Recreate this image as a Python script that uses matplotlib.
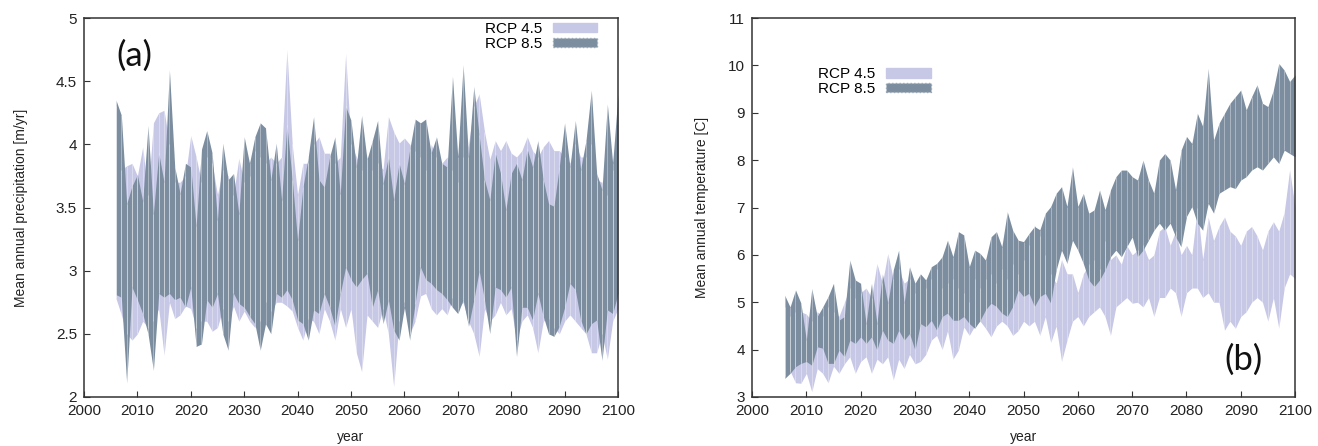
import numpy as np
import matplotlib
matplotlib.use("Agg")
import matplotlib.pyplot as plt
from matplotlib.patches import Patch

plt.rcParams["font.family"] = ["Liberation Sans", "DejaVu Sans"]

years = np.arange(2006, 2101)

# mean annual precipitation [m/yr], ensemble range per year
precip_rcp85_hi = [
    4.35, 4.23, 3.53, 3.67, 3.76, 3.55, 4.15, 3.45, 3.93, 3.70,
    4.59, 3.82, 3.61, 3.85, 3.82, 3.35, 3.96, 4.11, 3.93, 3.40,
    4.01, 3.72, 3.77, 3.45, 4.06, 3.85, 4.06, 4.17, 4.13, 3.72,
    4.01, 3.56, 4.15, 3.72, 3.24, 3.66, 3.90, 4.22, 3.72, 3.66,
    3.90, 4.06, 3.61, 4.30, 4.19, 3.82, 4.23, 3.88, 4.03, 4.19,
    3.69, 3.90, 3.56, 3.85, 3.69, 3.96, 4.20, 4.17, 4.20, 3.93,
    4.06, 3.85, 3.82, 4.54, 3.90, 4.63, 3.90, 4.46, 4.07, 3.72,
    3.56, 3.93, 3.77, 3.48, 3.77, 3.85, 3.72, 3.96, 3.82, 4.03,
    3.72, 3.53, 3.51, 3.82, 4.17, 3.82, 4.19, 3.80, 4.03, 4.43,
    3.77, 3.64, 4.32, 3.85, 4.40,
]
precip_rcp85_lo = [
    2.81, 2.79, 2.11, 2.87, 2.77, 2.66, 2.50, 2.21, 2.82, 2.79,
    2.82, 2.77, 2.79, 2.71, 2.87, 2.40, 2.42, 2.77, 2.71, 2.82,
    2.50, 2.37, 2.82, 2.74, 2.71, 2.64, 2.58, 2.37, 2.58, 2.50,
    2.82, 2.79, 2.85, 2.77, 2.61, 2.58, 2.45, 2.69, 2.66, 2.82,
    2.71, 2.56, 2.82, 3.03, 2.93, 2.87, 2.93, 2.98, 2.71, 2.85,
    2.58, 2.77, 2.53, 2.45, 2.71, 2.45, 2.74, 3.03, 2.93, 2.90,
    2.85, 2.82, 2.77, 2.71, 2.66, 2.77, 2.56, 2.77, 3.00, 2.77,
    2.50, 2.87, 2.85, 2.79, 2.87, 2.32, 2.71, 2.71, 2.61, 2.82,
    2.64, 2.50, 2.48, 2.56, 2.71, 2.90, 2.85, 2.61, 2.50, 2.58,
    2.61, 2.29, 2.69, 2.66, 2.82,
]
precip_rcp45_hi = [
    4.30, 3.80, 3.83, 3.85, 3.75, 3.98, 3.60, 4.17, 4.25, 4.27,
    4.00, 3.70, 3.70, 3.75, 4.07, 3.90, 3.70, 3.90, 3.85, 3.60,
    3.80, 3.75, 3.60, 3.89, 3.70, 3.75, 3.95, 3.90, 3.85, 3.90,
    3.85, 3.90, 4.75, 4.00, 3.60, 3.85, 3.85, 4.00, 4.06, 3.93,
    3.93, 3.85, 3.90, 4.72, 4.00, 3.90, 3.80, 3.90, 3.80, 3.85,
    3.80, 4.22, 4.10, 4.01, 4.05, 4.00, 3.95, 3.90, 3.80, 4.00,
    3.90, 3.85, 3.90, 3.80, 3.70, 3.90, 4.00, 4.30, 4.40, 4.10,
    3.88, 4.03, 3.95, 4.03, 3.93, 3.90, 3.95, 4.06, 3.95, 3.90,
    3.98, 4.03, 3.95, 3.95, 3.90, 3.85, 4.00, 3.90, 3.90, 4.00,
    3.72, 3.70, 3.60, 3.80, 3.80,
]
precip_rcp45_lo = [
    2.78, 2.65, 2.50, 2.45, 2.50, 2.60, 2.55, 2.60, 2.70, 2.33,
    2.75, 2.62, 2.65, 2.72, 2.70, 2.55, 2.60, 2.60, 2.52, 2.55,
    2.70, 2.60, 2.72, 2.60, 2.68, 2.60, 2.55, 2.60, 2.75, 2.68,
    2.75, 2.75, 2.72, 2.68, 2.55, 2.45, 2.62, 2.60, 2.50, 2.70,
    2.60, 2.45, 2.70, 2.55, 2.70, 2.35, 2.20, 2.65, 2.60, 2.55,
    2.70, 2.50, 2.08, 2.60, 2.75, 2.50, 2.60, 2.80, 2.82, 2.70,
    2.65, 2.70, 2.65, 2.78, 2.70, 2.75, 2.60, 2.50, 2.32, 2.70,
    2.60, 2.65, 2.75, 2.65, 2.70, 2.45, 2.60, 2.65, 2.55, 2.35,
    2.60, 2.62, 2.55, 2.50, 2.60, 2.65, 2.60, 2.55, 2.50, 2.35,
    2.35, 2.50, 2.30, 2.60, 2.70,
]

# mean annual temperature [C], ensemble range per year
temp_rcp85_hi = [
    5.15, 4.90, 5.26, 4.98, 4.20, 5.29, 4.70, 4.90, 5.12, 5.40,
    4.62, 4.70, 5.89, 5.47, 5.40, 4.55, 5.40, 4.55, 5.60, 4.98,
    5.68, 6.10, 4.98, 5.75, 5.40, 5.60, 5.47, 5.75, 5.82, 5.96,
    6.31, 5.96, 6.49, 6.42, 5.75, 6.10, 6.03, 5.89, 6.38, 6.49,
    6.17, 6.91, 6.52, 6.31, 6.28, 6.45, 6.60, 6.53, 6.88, 7.02,
    7.30, 7.44, 7.02, 7.86, 7.02, 7.30, 6.88, 6.95, 7.37, 6.95,
    7.37, 7.65, 7.79, 7.79, 7.65, 7.58, 8.00, 7.58, 7.30, 8.00,
    8.14, 8.00, 7.37, 8.21, 8.50, 8.35, 8.99, 8.71, 9.94, 8.42,
    8.78, 8.99, 9.20, 9.34, 9.48, 9.06, 9.34, 9.59, 9.20, 9.13,
    9.48, 10.04, 9.90, 9.66, 9.80,
]
temp_rcp85_lo = [
    3.39, 3.50, 3.64, 3.71, 3.75, 3.67, 4.06, 4.03, 3.71, 3.71,
    3.99, 3.85, 4.20, 4.13, 4.27, 4.13, 4.27, 3.99, 4.41, 4.20,
    4.13, 4.41, 4.20, 4.34, 3.99, 4.55, 4.48, 4.62, 4.41, 4.70,
    4.77, 4.62, 4.62, 4.70, 4.55, 4.45, 4.62, 4.84, 4.98, 4.91,
    4.77, 4.70, 4.91, 5.26, 5.12, 5.19, 4.91, 5.12, 5.19, 4.98,
    5.68, 6.10, 5.82, 6.31, 6.10, 5.82, 5.47, 5.33, 5.47, 5.68,
    5.96, 6.10, 5.96, 6.17, 6.38, 5.96, 6.10, 6.31, 6.52, 6.67,
    6.52, 6.67, 6.38, 6.17, 6.81, 7.02, 6.67, 6.52, 7.09, 6.88,
    7.30, 7.37, 7.44, 7.40, 7.58, 7.65, 7.79, 7.86, 7.79, 7.93,
    8.07, 7.93, 8.21, 8.14, 8.07,
]
temp_rcp45_hi = [
    4.90, 4.70, 4.80, 4.80, 4.75, 4.60, 4.80, 4.70, 4.90, 4.80,
    4.70, 5.00, 5.30, 5.10, 5.20, 5.30, 5.10, 5.82, 5.40, 6.03,
    5.50, 5.70, 5.40, 5.50, 5.20, 5.50, 5.30, 5.50, 5.70, 5.30,
    5.40, 5.50, 5.30, 5.20, 5.00, 5.50, 5.30, 5.50, 5.60, 5.40,
    5.70, 5.50, 5.80, 5.60, 5.90, 6.20, 6.63, 6.40, 6.00, 5.60,
    5.40, 5.90, 5.60, 5.60, 5.20, 5.60, 5.80, 5.90, 5.70, 6.30,
    5.90, 6.00, 5.80, 6.20, 6.00, 6.10, 6.20, 5.90, 6.00, 6.50,
    6.60, 6.20, 6.50, 6.00, 6.20, 6.00, 7.00, 5.90, 6.80, 6.30,
    6.60, 6.80, 6.50, 6.40, 6.20, 6.50, 6.60, 6.40, 6.10, 6.50,
    6.70, 6.50, 6.90, 7.80, 7.00,
]
temp_rcp45_lo = [
    3.45, 3.55, 3.30, 3.29, 3.50, 3.11, 3.60, 3.50, 3.30, 3.65,
    3.50, 3.70, 3.85, 3.50, 3.75, 3.85, 3.50, 3.80, 3.70, 3.85,
    3.36, 3.80, 3.60, 3.90, 3.70, 3.75, 3.90, 4.20, 4.30, 4.00,
    4.40, 3.80, 3.99, 4.48, 4.30, 4.50, 4.60, 4.45, 4.27, 4.50,
    4.60, 4.50, 4.30, 4.40, 4.60, 4.50, 4.60, 4.30, 4.70, 4.15,
    4.50, 3.75, 4.20, 4.60, 4.70, 4.50, 4.70, 4.80, 4.90, 4.70,
    4.30, 4.90, 5.00, 5.10, 4.98, 5.00, 4.90, 5.10, 4.70, 5.10,
    5.10, 5.30, 5.20, 4.70, 5.20, 5.30, 5.30, 5.10, 5.20, 5.00,
    5.00, 4.41, 4.60, 4.45, 4.70, 4.80, 5.00, 5.10, 5.00, 4.60,
    5.10, 4.45, 5.30, 5.60, 5.50,
]

series_labels = ["RCP 4.5", "RCP 8.5"]
light = "#c7c7e6"
dark = "#7b8d9f"
frame = "#333333"


def band(ax, lo, hi, color):
    ax.fill_between(years, lo, hi, color=color, lw=0)
    # thin white seams between yearly segments
    ax.vlines(years, lo, hi, color="white", lw=0.5, alpha=0.5)


def style_axes(ax, ylim, yticks, yticklabels, ylabel, ylabelpad):
    ax.set_xlim(2000, 2100)
    ax.set_ylim(*ylim)
    ax.set_xticks(np.arange(2000, 2101, 10))
    ax.set_yticks(yticks)
    ax.set_yticklabels(yticklabels)
    ax.tick_params(direction="in", length=4, width=0.8, colors=frame,
                   labelsize=11, labelcolor="#222222", pad=5)
    for s in ax.spines.values():
        s.set_color(frame)
        s.set_linewidth(1.1)
    ax.set_xlabel("year", fontsize=10, color="#222222", labelpad=9)
    ax.set_ylabel(ylabel, fontsize=10, color="#222222", labelpad=ylabelpad)


fig = plt.figure(figsize=(13.18, 4.46), dpi=100)
ax1 = fig.add_axes([0.0637, 0.1099, 0.4052, 0.8497])
ax2 = fig.add_axes([0.5706, 0.1099, 0.4120, 0.8497])

band(ax1, precip_rcp45_lo, precip_rcp45_hi, light)
band(ax1, precip_rcp85_lo, precip_rcp85_hi, dark)
style_axes(ax1, (2, 5), [2, 2.5, 3, 3.5, 4, 4.5, 5],
           ["2", "2.5", "3", "3.5", "4", "4.5", "5"],
           "Mean annual precipitation [m/yr]", 20)

band(ax2, temp_rcp45_lo, temp_rcp45_hi, light)
band(ax2, temp_rcp85_lo, temp_rcp85_hi, dark)
style_axes(ax2, (3, 11), np.arange(3, 12), [str(v) for v in range(3, 12)],
           "Mean annual temperature [C]", 14)

handles = [
    Patch(facecolor=light, edgecolor=light),
    Patch(facecolor=dark, edgecolor="#9aa8b6", linestyle=":"),
]
leg_kw = dict(frameon=False, markerfirst=False, fontsize=11,
              handlelength=2.9, handleheight=0.55, labelspacing=0.05,
              handletextpad=0.7, borderpad=0.0)
ax1.legend(handles, series_labels, loc="upper right",
           bbox_to_anchor=(0.975, 1.01), **leg_kw)
ax2.legend(handles, series_labels, loc="upper left",
           bbox_to_anchor=(0.108, 0.89), **leg_kw)

ax1.text(0.095, 0.9, "(a)", transform=ax1.transAxes, fontsize=25,
         family=["Lato", "DejaVu Sans"], ha="center", va="center", color="#111111")
ax2.text(0.905, 0.098, "(b)", transform=ax2.transAxes, fontsize=25,
         family=["Lato", "DejaVu Sans"], ha="center", va="center", color="#111111")

fig.savefig("out.png", dpi=100)
